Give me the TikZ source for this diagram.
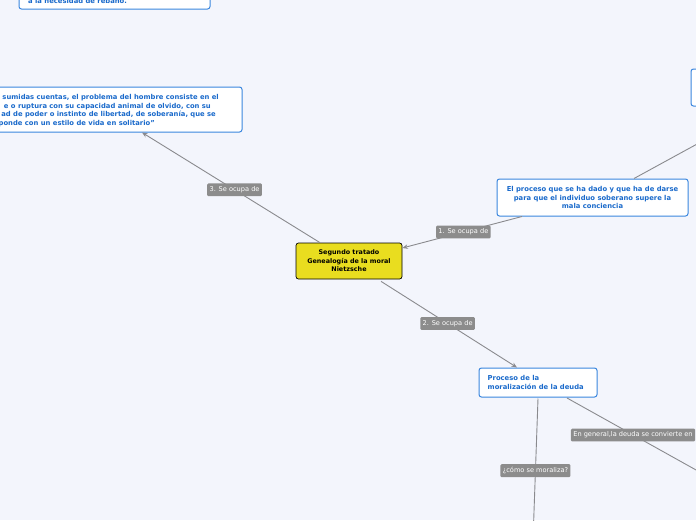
\documentclass[tikz,border=0pt]{standalone}
\usepackage{fontspec}
\setmainfont{DejaVu Sans}
\usetikzlibrary{arrows.meta,calc}
\definecolor{bg}{HTML}{F3F5FC}
\definecolor{boxblue}{HTML}{3A86DE}
\definecolor{txtblue}{HTML}{1A6ACB}
\definecolor{lblgray}{HTML}{8C8C8C}
\definecolor{linegray}{HTML}{8A8A8E}
\definecolor{yel}{HTML}{E9DD1F}
\begin{document}
\begin{tikzpicture}[x=1pt,y=-1pt,
  bluebox/.style={draw=boxblue, line width=1pt, rounded corners=2.5pt, fill=white, inner sep=0pt},
  btext/.style={text=txtblue, font=\fontsize{6.8}{8.6}\selectfont\bfseries, inner sep=0pt},
  lbl/.style={fill=lblgray, text=white, font=\fontsize{6.6}{7}\selectfont, rounded corners=1.2pt, inner xsep=2.4pt, inner ysep=3.2pt},
  conn/.style={draw=linegray, line width=0.9pt},
  arr/.style={-{Stealth[length=5.5pt,width=4.5pt]}}
]
\useasboundingbox (0,0) rectangle (696,520);
\fill[bg] (0,0) rectangle (696,520);

% boxes
\node[draw=black, line width=0.7pt, fill=yel, rounded corners=2.5pt, minimum width=106pt, minimum height=36pt, align=center, font=\fontsize{6.4}{8.6}\selectfont\bfseries, inner sep=0pt] (cn) at (349,261) {Segundo tratado\\Genealogía de la moral\\Nietzsche};

\node[bluebox, minimum width=304pt, minimum height=45pt] (b2) at (90,109.5) {};
\node[btext, anchor=base east] (b2l1) at (219,99.5) {sumidas cuentas, el problema del hombre consiste en el};
\node[btext, anchor=base east] (b2l2) at (211,108) {e o ruptura con su capacidad animal de olvido, con su};
\node[btext, anchor=base east] (b2l3) at (216,116.5) {ad de poder o instinto de libertad, de soberanía, que se};
\node[btext, anchor=base east] (b2l4) at (155,125) {ponde con un estilo de vida en solitario"};

\node[bluebox, minimum width=191pt, minimum height=34pt] (b0) at (114.5,-8) {};
\node[btext, anchor=base west] (b0l1) at (28,3.5) {a la necesidad de rebaño.};

\node[bluebox, minimum width=191pt, minimum height=37pt] (rb) at (592.5,197.5) {};
\node[btext, align=center] (rbt) at (rb.center) {El proceso que se ha dado y que ha de darse\\para que el individuo soberano supere la\\mala conciencia};

\node[bluebox, minimum width=100pt, minimum height=37pt] (tr) at (741,87.5) {};

\node[bluebox, minimum width=118pt, minimum height=29pt] (bb) at (538,382.5) {};
\node[btext, align=left, anchor=west] (bbt) at (487.5,382.5) {Proceso de la\\moralización de la deuda};

% connectors
\coordinate (e4) at (533,540);
\coordinate (e5) at (740,494.5);
\coordinate (e6) at (720,131.5);
\draw[conn, arr] ($(cn.north)+(-29,0)$) -- ($(b2.south)+(52,0)$) node[lbl, pos=0.48] (l3) {3. Se ocupa de};
\draw[conn, arr] ($(rb.south)+(-70.5,0)$) -- ($(cn.east)+(0,-13)$) node[lbl, pos=0.49] (l1) {1. Se ocupa de};
\draw[conn, arr] ($(cn.south)+(32,2)$) -- ($(bb.north)+(-21,0)$) node[lbl, pos=0.49] (l2) {2. Se ocupa de};
\draw[conn] ($(bb.south)+(0,1)$) -- (e4) node[lbl, pos=0.51] (l4) {¿cómo se moraliza?};
\draw[conn] ($(bb.south)+(29,0.5)$) -- (e5);
\node[lbl] (l5) at (633,435) {En general,la deuda se convierte en};
\draw[conn] ($(rb.north)+(41.5,0)$) -- (e6);
\end{tikzpicture}
\end{document}
